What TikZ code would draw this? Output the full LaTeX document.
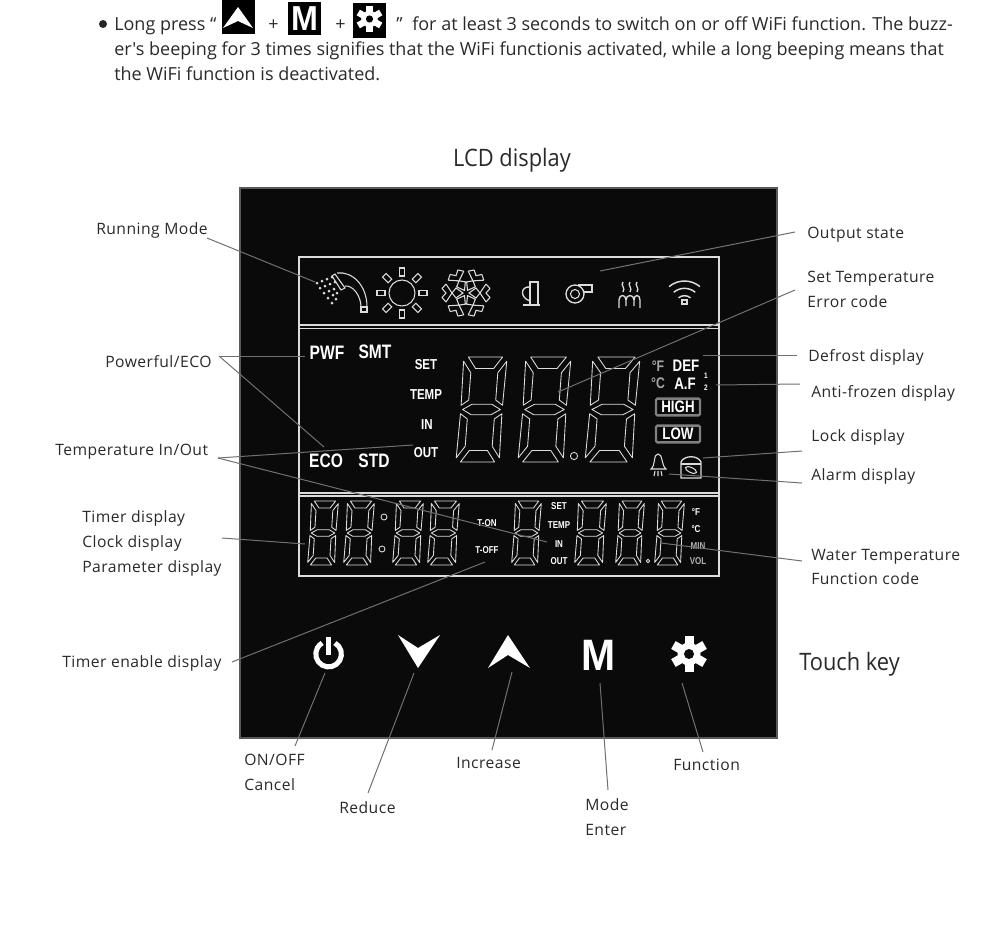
\documentclass[tikz,border=0pt]{standalone}
\usepackage{fontspec}
\setmainfont{Open Sans}
\newfontfamily\bodyf{Open Sans}[Ligatures=TeXOff]
\newfontfamily\labf{Open Sans}[LetterSpace=3]
\newfontfamily\headf{Open Sans}[FakeStretch=0.91]
\newfontfamily\lcdf{Liberation Sans}[FakeStretch=0.8]
\newfontfamily\keyf{Liberation Sans}[FakeStretch=0.93]
\definecolor{panel}{HTML}{0A0A0A}
\definecolor{ink}{HTML}{2A2A2A}
\definecolor{conn}{HTML}{707070}
\definecolor{frameg}{HTML}{DCDCDC}
\tikzset{
  body/.style={anchor=base west,inner sep=0pt,text=ink,font=\bodyf\fontsize{13.5}{16}\selectfont},
  lab/.style={inner sep=0pt,text=ink,align=left,font=\labf\fontsize{11.75}{18.6}\selectfont},
  head/.style={inner sep=0pt,text=ink,font=\headf\fontsize{18}{22}\selectfont},
  wire/.style={draw=conn,line width=0.75pt},
  seg/.style={draw=frameg,line width=0.65pt,line join=round},
  icon/.style={draw=frameg,line width=0.8pt},
  lcdl/.style={inner sep=0pt,text=white,font=\lcdf\bfseries\fontsize{14.6}{16}\selectfont},
  lcdm/.style={inner sep=0pt,text=white,font=\lcdf\bfseries\fontsize{10.8}{12}\selectfont},
  lcds/.style={inner sep=0pt,text=white,font=\lcdf\bfseries\fontsize{7.5}{9}\selectfont},
  lvlbox/.style={draw=gray,line width=1.8pt,rounded corners=1pt,fill=panel,minimum width=33pt,minimum height=12.5pt,inner sep=0pt,text=white,font=\lcdf\bfseries\fontsize{12.5}{12}\selectfont},
}
\newcommand\segdigit[5]{%
  \begin{scope}[shift={(#1,#2)},x={(#3*.75pt,0pt)},y={(#5*.75pt,#4*.75pt)}]
    \draw[seg] (.12,1)--(.88,1)--(.70,.89)--(.30,.89)--cycle
      (.12,0)--(.88,0)--(.70,.11)--(.30,.11)--cycle
      (.08,.5)--(.28,.55)--(.72,.55)--(.92,.5)--(.72,.45)--(.28,.45)--cycle
      (.02,.96)--(.2,.85)--(.2,.59)--(.04,.54)--cycle
      (.02,.04)--(.2,.15)--(.2,.41)--(.04,.46)--cycle
      (.98,.96)--(.8,.85)--(.8,.59)--(.96,.54)--cycle
      (.98,.04)--(.8,.15)--(.8,.41)--(.96,.46)--cycle;
  \end{scope}}
\newcommand\gearicon[4]{%
  \begin{scope}[shift={(#1,#2)},scale=#3]
    \foreach \a in {0,60,...,300}{\fill[white,rotate=\a] (-4.5,-18) rectangle (4.5,0);}
    \fill[white] (0,0) circle[radius=11.5];
    \fill[#4] (0,0) circle[radius=5];
  \end{scope}}
\begin{document}
\begin{tikzpicture}[x=.75pt,y=-.75pt]
\useasboundingbox (0,0) rectangle (1000,946);
\fill[white] (0,0) rectangle (1000,946);
% top paragraph
\fill[black!85] (103,24) circle[radius=4];
\node[body] (t1) at (114,30) {Long press “};
\fill[black] (222,0) rectangle (255,34);
\fill[white] (238,7)--(253,28)--(238,21)--(223,28)--cycle;
\node[body] (tplus1) at (268,30) {+};
\fill[black] (288,2) rectangle (321,35);
\node[inner sep=0pt,text=white,font=\keyf\bfseries\fontsize{26}{26}\selectfont] (tm) at (304.5,19) {M};
\node[body] (tplus2) at (335,30) {+};
\fill[black] (353,3) rectangle (386,38);
\gearicon{369.5}{19}{.72}{black}
\node[body] (t1q) at (396,30) {”};
\node[body] (t1b) at (412,30) {for at least 3 seconds to switch on or off WiFi function. The buzz-};
\node[body] (t2) at (114,55) {er's beeping for 3 times signifies that the WiFi functionis activated, while a long beeping means that};
\node[body] (t3) at (114,80.5) {the WiFi function is deactivated.};
\node[head] (hlcd) at (512,160) {LCD display};
\node[head,anchor=west] (htouch) at (799,664) {Touch key};
% panel
\fill[panel] (240,188) rectangle (777,738);
\draw[gray!70!black,line width=1.5pt] (240,188) rectangle (777,738);
% LCD frames
\draw[frameg,line width=.9pt] (299,257) rectangle (719,576);
\draw[frameg,line width=.8pt] (299,325) -- (719,325) (299,328.5) -- (719,328.5);
\draw[frameg,line width=.8pt] (299,493) -- (719,493) (299,496) -- (719,496);
% icons row
\foreach \px/\py in {317/283,322/281,327/279,332/277,320/288,325/286,330/284,335/282,324/293,329/291,334/289,328/298,333/295,337/293,332/303,336/299}{\fill[frameg] (\px,\py) circle[radius=1.5];}
\draw[icon] (335,274)--(345,288)--(341,290)--(332,276)--cycle;
\draw[icon] (337,273) .. controls (352,271) and (367,285) .. (367,307) -- (361,307) .. controls (361,296) and (353,285) .. (345,286);
\draw[icon] (361,307) rectangle (367,312);
\draw[icon] (402,293) circle[radius=13];
\foreach \a in {0,45,...,315}{\draw[icon,shift={(402,293)},rotate=\a] (-2.5,-25) rectangle (2.5,-17);}
\begin{scope}[shift={(466,293)}]
\foreach \a in {30,90,...,330}{
  \draw[icon,rotate=\a] (0,-3)--(5,-10)--(0,-14)--(-5,-10)--cycle (-9,-20)--(0,-14)--(9,-20) (-4.5,-24)--(0,-20)--(4.5,-24) (-9,-20)--(-4.5,-24) (9,-20)--(4.5,-24);
}
\end{scope}
\draw[icon,line width=1pt] (530,282) rectangle (538,305) (523,305)--(540,305);
\draw[icon,line width=1pt] (530,287) .. controls (520,286) and (520,298) .. (530,301);
\draw[icon,line width=1pt] (575,294) circle[radius=9];
\draw[icon] (575,294) circle[radius=4.5];
\draw[icon,line width=1pt] (578,285) -- (592,285) -- (592,292) -- (584,292);
\foreach \hx in {623,630,637}{\draw[icon,line width=1pt] (\hx,282) .. controls (\hx-3,285) and (\hx+3,288) .. (\hx,292);}
\draw[icon,line width=1pt] (619,308) -- (619,300) .. controls (619,294) and (626,294) .. (626,300) -- (626,306) (626,300) .. controls (626,294) and (634,294) .. (634,300) -- (634,306) (634,300) .. controls (634,294) and (640,294) .. (640,300) -- (640,308);
\draw[icon,line width=1.1pt] (684.5,305) ++(130:18pt) arc[start angle=130,end angle=50,radius=18pt];
\draw[icon,line width=1.1pt] (684.5,305) ++(130:12.5pt) arc[start angle=130,end angle=50,radius=12.5pt];
\draw[icon,line width=1.1pt] (684.5,305) ++(130:7pt) arc[start angle=130,end angle=50,radius=7pt];
\draw[icon,line width=1pt] (682,300) rectangle (687,304);
% main digits
\segdigit{455}{462}{45}{105}{8}
\segdigit{517}{462}{47}{105}{8}
\segdigit{584}{462}{49}{105}{8}
\draw[seg] (574,456) circle[radius=3.6];
% small digits
\segdigit{307}{565}{28}{64}{4}
\segdigit{343}{565}{28}{64}{4}
\segdigit{392}{565}{28}{64}{4}
\segdigit{427}{565}{29}{64}{4}
\draw[seg] (384,517) circle[radius=3];
\draw[seg] (382,549) circle[radius=3];
\segdigit{511}{565}{27}{64}{4}
\segdigit{574}{565}{29}{64}{4}
\segdigit{615}{565}{26}{64}{4}
\segdigit{654}{565}{27}{64}{4}
\draw[seg] (648,561) circle[radius=1.8];
% lcd text
\node[lcdl] (pwf) at (327,353) {PWF};
\node[lcdl] (smt) at (375,352) {SMT};
\node[lcdl] (eco) at (326,461) {ECO};
\node[lcdl] (std) at (374,461) {STD};
\node[lcdm] (set) at (426,365) {SET};
\node[lcdm] (temp) at (426,395) {TEMP};
\node[lcdm] (in) at (427,425) {IN};
\node[lcdm] (out) at (426,453) {OUT};
\node[lcdm,font=\lcdf\bfseries\fontsize{12.5}{14}\selectfont] (def) at (686,366) {DEF};
\node[lcdm,font=\lcdf\bfseries\fontsize{12.5}{14}\selectfont] (af) at (685,384) {A.F};
\node[lcdm,text=gray!70!white,font=\lcdf\bfseries\fontsize{11.5}{14}\selectfont] (degf) at (658,366) {°F};
\node[lcdm,text=gray!70!white,font=\lcdf\bfseries\fontsize{11.5}{14}\selectfont] (degc) at (658,383) {°C};
\node[lcds,font=\lcdf\bfseries\fontsize{6}{7}\selectfont] (one) at (706,376) {1};
\node[lcds,font=\lcdf\bfseries\fontsize{6}{7}\selectfont] (two) at (706,388) {2};
\node[lvlbox] (high) at (678,407) {HIGH};
\node[lvlbox] (low) at (678,434) {LOW};
\draw[icon] (651,469) .. controls (656,465) and (653,454) .. (658,454) .. controls (663,454) and (661,465) .. (666,469) -- cycle;
\draw[icon] (655,471)--(654,476) (658,471)--(658,476) (661,471)--(662,476);
\draw[icon,line width=1pt] (681,478) -- (681,462) .. controls (684,455) and (698,455) .. (701,462) -- (701,478) -- cycle;
\draw[icon] (681,464) -- (701,464);
\draw[icon,rotate around={-25:(691,470)}] (691,470) ellipse[x radius=6,y radius=2.5];
\node[lcds] (ton) at (487,523) {T-ON};
\node[lcds] (toff) at (487,550) {T-OFF};
\node[lcds] (sset) at (559,506) {SET};
\node[lcds] (stemp) at (559,525) {TEMP};
\node[lcds] (sin) at (559,544) {IN};
\node[lcds] (sout) at (559,561) {OUT};
\node[lcds] (sf) at (696,512) {°F};
\node[lcds] (sc) at (696,529) {°C};
\node[lcds,text=gray!60] (smin) at (698,546) {MIN};
\node[lcds,text=gray!60] (svol) at (698,561) {VOL};
% touch keys
\draw[white,line width=3.8pt] (335,643) arc[start angle=60,end angle=-240,radius=9.6pt];
\draw[white,line width=3.6pt] (328.5,637) -- (328.5,655);
\fill[white] (398,635)--(418,648)--(440,635)--(418,668)--cycle;
\fill[white] (488,668)--(508,655)--(530,668)--(508,635)--cycle;
\node[inner sep=0pt,text=white,font=\keyf\bfseries\fontsize{33}{33}\selectfont] (keym) at (599,655) {M};
\gearicon{689}{654}{1}{panel}
% labels
\node[lab,anchor=west] (lrun) at (96,230) {Running Mode};
\node[lab,anchor=west] (lpow) at (105,362) {Powerful/ECO};
\node[lab,anchor=west] (ltemp) at (55,452) {Temperature In/Out};
\node[lab,anchor=west] (ltimer) at (82,543.5) {Timer display\\Clock display\\Parameter display};
\node[lab,anchor=west] (lenable) at (62,663) {Timer enable display};
\node[lab,anchor=west] (lout) at (807,235) {Output state};
\node[lab,anchor=west] (lset) at (807,289) {Set Temperature\\Error code};
\node[lab,anchor=west] (ldef) at (808,357) {Defrost display};
\node[lab,anchor=west] (lanti) at (811,393) {Anti-frozen display};
\node[lab,anchor=west] (llock) at (811,437.5) {Lock display};
\node[lab,anchor=west] (lalarm) at (811,476) {Alarm display};
\node[lab,anchor=west] (lwater) at (811,567) {Water Temperature\\Function code};
\node[lab,anchor=west] (lonoff) at (244,772) {ON/OFF\\Cancel};
\node[lab,anchor=west] (lred) at (339,808) {Reduce};
\node[lab,anchor=west] (linc) at (456,763) {Increase};
\node[lab,anchor=west] (lmode) at (585,817.5) {Mode\\Enter};
\node[lab,anchor=west] (lfun) at (673,765) {Function};
% connector ends
\coordinate (cRun) at (207,238);   \coordinate (eRun) at (315,282);
\coordinate (cOut) at (795,232);   \coordinate (eOut) at (600,271);
\coordinate (cSet) at (795,290);   \coordinate (eSet) at (558,392);
\coordinate (cDef) at (797,355);   \coordinate (eDef) at (703,355);
\coordinate (cAnti) at (800,384);  \coordinate (eAnti) at (716,385);
\coordinate (cLock) at (802,451);  \coordinate (eLock) at (703,458);
\coordinate (cAlarm) at (802,483); \coordinate (eAlarm) at (669,474);
\coordinate (cWater) at (802,561); \coordinate (eWater) at (661,543);
\coordinate (cPow) at (219,356);   \coordinate (ePow) at (305,356); \coordinate (eEco) at (324,447);
\coordinate (cTemp) at (218,458);  \coordinate (eTout) at (413,445); \coordinate (eTin) at (547,542);
\coordinate (cTimer) at (222,538); \coordinate (eTimer) at (305,544);
\coordinate (cEn) at (232,662);    \coordinate (eEn) at (485,562);
\coordinate (cOn) at (295,746);    \coordinate (ePw) at (325,673);
\coordinate (cRe) at (368,793);    \coordinate (eRe) at (414,673);
\coordinate (cIn) at (492,750);    \coordinate (eIn) at (512,672);
\coordinate (cMo) at (608,790);    \coordinate (eMo) at (600,683);
\coordinate (cFu) at (703,752);    \coordinate (eFu) at (682,683);
\foreach \s/\e in {cRun/eRun,cOut/eOut,cSet/eSet,cDef/eDef,cAnti/eAnti,cLock/eLock,cAlarm/eAlarm,cWater/eWater,cPow/ePow,cPow/eEco,cTemp/eTout,cTemp/eTin,cTimer/eTimer,cEn/eEn,cOn/ePw,cRe/eRe,cIn/eIn,cMo/eMo,cFu/eFu}{\draw[wire] (\s) -- (\e);}
\end{tikzpicture}
\end{document}
